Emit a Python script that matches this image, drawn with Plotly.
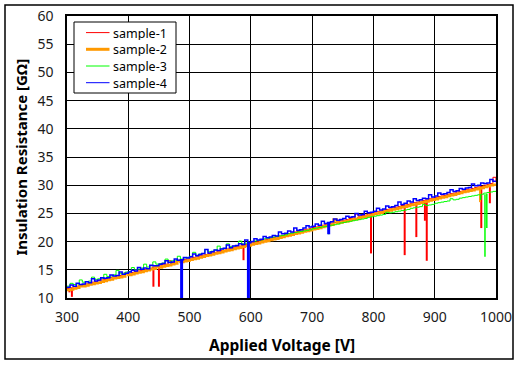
import plotly.graph_objects as go

voltage = list(range(300, 1001, 5))

sample1 = [11.7, 11.8, 12.0, 12.1, 12.2, 12.4, 12.5, 12.6, 12.8, 12.9,
           13.1, 13.2, 13.3, 13.5, 13.6, 13.7, 13.9, 14.0, 14.1, 14.3,
           14.4, 14.5, 14.7, 14.8, 14.9, 15.1, 15.2, 15.3, 15.5, 15.6,
           15.7, 15.9, 16.0, 16.6, 16.3, 16.4, 16.5, 16.7, 16.8, 16.9,
           17.1, 17.2, 17.3, 17.5, 17.6, 17.7, 17.9, 18.0, 18.1, 18.3,
           18.4, 18.5, 18.7, 18.8, 18.9, 19.1, 19.2, 19.3, 19.5, 19.6,
           19.8, 19.9, 20.0, 20.2, 20.3, 20.4, 20.6, 20.7, 20.8, 21.0,
           21.1, 21.3, 21.4, 21.5, 21.7, 21.8, 21.9, 22.1, 22.2, 22.3,
           22.5, 22.6, 22.7, 22.9, 23.0, 23.1, 23.3, 23.4, 23.5, 23.7,
           23.8, 23.9, 24.1, 24.2, 24.9, 24.5, 24.6, 24.7, 24.9, 25.0,
           25.2, 25.3, 25.4, 25.6, 25.7, 25.8, 26.0, 26.1, 26.2, 26.4,
           26.5, 26.6, 26.8, 26.9, 27.0, 27.2, 27.3, 27.4, 27.6, 27.7,
           27.8, 28.0, 28.1, 28.2, 28.4, 28.5, 28.6, 28.8, 28.9, 29.0,
           29.2, 29.3, 29.4, 29.6, 29.7, 29.8, 30.0, 30.1, 30.3, 31.4,
           30.5]
sample2 = [11.4, 11.5, 11.7, 11.8, 12.1, 12.1, 12.2, 12.4, 12.5, 12.6,
           12.7, 12.9, 13.0, 13.2, 13.3, 13.5, 13.6, 13.7, 13.8, 14.3,
           14.1, 14.2, 14.4, 14.5, 14.6, 14.8, 14.9, 15.1, 15.2, 15.6,
           15.4, 15.6, 15.7, 15.8, 16.0, 16.1, 16.6, 16.4, 16.5, 16.6,
           16.8, 16.9, 17.0, 17.2, 17.3, 17.5, 17.6, 17.7, 17.9, 18.0,
           18.1, 18.3, 18.4, 18.5, 18.7, 18.8, 18.9, 19.1, 19.2, 19.3,
           19.5, 19.6, 19.7, 19.9, 20.0, 20.1, 20.3, 20.4, 20.5, 20.7,
           20.8, 21.0, 21.1, 21.2, 21.4, 21.5, 21.6, 21.8, 21.9, 22.0,
           22.2, 22.3, 22.4, 22.6, 22.7, 22.9, 23.0, 23.9, 23.3, 23.4,
           23.5, 23.6, 23.8, 23.9, 24.0, 24.2, 24.3, 24.4, 24.6, 24.7,
           24.9, 25.0, 25.1, 25.3, 25.4, 25.5, 25.7, 25.8, 25.9, 26.1,
           26.2, 26.3, 26.5, 26.6, 26.7, 26.9, 27.0, 27.1, 27.3, 27.4,
           27.5, 27.7, 27.8, 27.9, 28.1, 28.2, 28.3, 28.5, 28.6, 28.8,
           28.9, 29.0, 29.1, 29.3, 29.4, 29.5, 29.7, 29.8, 30.0, 30.1,
           30.2]
sample3 = [12.1, 12.6, 12.4, 12.5, 13.2, 12.8, 12.9, 13.0, 13.7, 13.3,
           13.4, 13.5, 14.2, 13.8, 13.9, 14.1, 14.9, 14.3, 14.4, 14.6,
           14.7, 15.4, 15.0, 15.1, 15.3, 16.0, 15.5, 15.7, 16.4, 16.0,
           16.1, 16.2, 16.9, 16.4, 16.6, 16.7, 17.4, 16.9, 17.1, 17.2,
           17.4, 18.1, 17.6, 17.8, 17.9, 18.6, 18.2, 18.3, 18.5, 19.2,
           18.7, 18.8, 19.6, 19.1, 19.2, 19.3, 20.1, 19.6, 19.7, 19.9,
           20.0, 20.1, 20.2, 20.3, 20.5, 20.6, 20.7, 20.8, 20.9, 21.0,
           21.1, 21.2, 21.4, 21.5, 21.6, 21.7, 21.8, 21.9, 22.0, 22.1,
           22.3, 22.4, 22.5, 22.6, 22.7, 22.8, 22.9, 23.0, 23.1, 23.3,
           23.4, 23.5, 23.6, 23.7, 23.8, 23.9, 24.0, 24.1, 24.3, 24.4,
           24.5, 24.6, 24.7, 24.8, 25.2, 25.1, 25.2, 25.3, 25.4, 25.5,
           25.6, 25.7, 25.9, 26.0, 26.1, 26.2, 26.6, 26.4, 26.5, 26.6,
           26.8, 26.9, 27.0, 27.1, 27.2, 27.6, 27.4, 27.5, 27.7, 27.8,
           27.9, 28.0, 28.1, 28.2, 28.3, 28.4, 28.6, 28.7, 28.8, 28.9,
           29.0]
sample4 = [11.9, 12.3, 12.1, 12.6, 12.4, 12.5, 12.9, 12.7, 13.4, 13.0,
           13.2, 13.6, 13.5, 13.6, 14.1, 13.9, 14.0, 14.6, 14.2, 14.4,
           14.6, 14.9, 14.8, 15.4, 15.1, 15.3, 15.2, 15.8, 15.7, 15.7,
           16.0, 16.1, 16.6, 16.3, 16.4, 16.9, 16.7, 16.8, 17.2, 17.1,
           17.3, 17.8, 17.5, 17.7, 17.9, 18.6, 18.0, 18.2, 18.5, 18.4,
           18.7, 18.8, 19.4, 18.9, 19.2, 19.3, 19.6, 19.5, 20.3, 19.8,
           20.0, 20.5, 20.3, 20.4, 20.9, 20.7, 20.8, 21.1, 21.0, 21.7,
           21.4, 21.5, 21.9, 21.7, 22.4, 22.0, 22.1, 22.4, 22.8, 22.6,
           22.7, 23.1, 22.9, 23.6, 23.2, 23.4, 23.5, 24.0, 23.8, 23.9,
           24.1, 24.5, 24.3, 24.4, 25.0, 24.7, 24.8, 25.4, 25.1, 25.2,
           25.4, 25.9, 25.6, 25.8, 26.3, 26.1, 26.2, 26.4, 27.0, 26.6,
           26.8, 27.2, 27.0, 27.6, 27.3, 27.4, 27.7, 27.6, 28.3, 27.9,
           28.1, 28.6, 28.4, 28.5, 28.7, 29.2, 28.9, 29.0, 29.4, 29.3,
           29.5, 29.6, 30.2, 29.9, 30.0, 30.4, 30.3, 30.4, 31.0, 30.7,
           30.8]

# downward spikes: voltage, level before drop, lowest level
s1_spike_v = [304, 308, 441, 450, 588, 796, 851, 870, 884, 887, 976, 990]
s1_spike_top = [11.6, 11.8, 15.4, 15.7, 19.4, 25.0, 26.4, 27.0, 27.3, 27.4, 29.8, 30.2]
s1_spike_low = [11.0, 10.2, 12.0, 12.0, 16.7, 17.9, 17.6, 20.8, 23.7, 16.6, 22.4, 26.8]
s2_spike_v = [974]
s2_spike_top = [29.5]
s2_spike_low = [27.0]
s3_spike_v = [727, 975, 982, 985]
s3_spike_top = [22.9, 28.3, 28.4, 28.5]
s3_spike_low = [21.3, 27.4, 17.3, 22.4]
s4_spike_v = [487, 596, 727]
s4_spike_top = [16.9, 19.9, 23.3]
s4_spike_low = [9.0, 9.0, 21.3]

names = ["sample-1", "sample-2", "sample-3", "sample-4"]
colors = ["#FF0000", "#FF9900", "#00FF00", "#0000FF"]
widths = [1, 2.5, 1, 1.5]
legend_widths = [1, 3, 1, 1]
spike_widths = [2, 2, 1.5, 3]

series = [sample1, sample2, sample3, sample4]
spikes = [(s1_spike_v, s1_spike_top, s1_spike_low),
          (s2_spike_v, s2_spike_top, s2_spike_low),
          (s3_spike_v, s3_spike_top, s3_spike_low),
          (s4_spike_v, s4_spike_top, s4_spike_low)]

fig = go.Figure()
for name, col, w, sw, ys, (sv, st, sl) in zip(names, colors, widths, spike_widths, series, spikes):
    fig.add_trace(go.Scatter(x=voltage, y=ys, mode="lines", name=name, showlegend=False,
                             line=dict(color=col, width=w, shape="hv")))
    xs, yy = [], []
    for v, t, l in zip(sv, st, sl):
        xs += [v, v, None]
        yy += [t, l, None]
    fig.add_trace(go.Scatter(x=xs, y=yy, mode="lines", showlegend=False,
                             line=dict(color=col, width=sw), hoverinfo="skip"))

L, R, T, B = 67, 24, 16, 67
PW, PH = 520 - L - R, 365 - T - B

def px_x(p):
    return (p - L) / PW

def px_y(p):
    return (365 - B - p) / PH

shapes = [dict(type="rect", xref="paper", yref="paper",
               x0=px_x(5), x1=px_x(513), y0=px_y(359), y1=px_y(5),
               line=dict(color="black", width=1.5), layer="below"),
          dict(type="rect", xref="paper", yref="paper",
               x0=px_x(74), x1=px_x(176), y0=px_y(93), y1=px_y(22),
               line=dict(color="black", width=1), fillcolor="white", layer="above")]
annotations = []
rows = [32.6, 49.3, 66.0, 82.7]
for name, col, lw, ry in zip(names, colors, legend_widths, rows):
    shapes.append(dict(type="line", xref="paper", yref="paper",
                       x0=px_x(86), x1=px_x(109.5), y0=px_y(ry), y1=px_y(ry),
                       line=dict(color=col, width=lw), layer="above"))
    annotations.append(dict(text=name, xref="paper", yref="paper",
                            x=px_x(112), y=px_y(ry), xanchor="left", yanchor="middle",
                            showarrow=False, height=14, borderpad=0,
                            font=dict(family="Noto Sans", size=12.5, color="black")))

annotations += [
    dict(text="<b>Applied Voltage [V]</b>", xref="paper", yref="paper",
         x=0.5, y=px_y(345), xanchor="center", yanchor="middle",
         showarrow=False, font=dict(family="Noto Sans", size=15.5, color="black")),
    dict(text="<b>Insulation Resistance [GΩ]</b>", xref="paper", yref="paper",
         x=px_x(20.5), y=px_y(157), xanchor="center", yanchor="middle",
         textangle=-90, showarrow=False,
         font=dict(family="Noto Sans", size=15, color="black")),
]

tickfont = dict(family="Noto Sans", size=14, color="#1a1a1a")
fig.update_layout(
    width=520, height=365,
    margin=dict(l=L, r=R, t=T, b=B, autoexpand=False),
    paper_bgcolor="white", plot_bgcolor="white",
    showlegend=False,
    xaxis=dict(range=[300, 1000], tickmode="array",
               tickvals=[300, 400, 500, 600, 700, 800, 900, 1000],
               showgrid=True, gridcolor="black", gridwidth=1,
               showline=True, linecolor="black", linewidth=1.5, mirror=True,
               zeroline=False, ticks="", tickfont=tickfont,
               ticklabelstandoff=5),
    yaxis=dict(range=[10, 60], tickmode="array",
               tickvals=[10, 15, 20, 25, 30, 35, 40, 45, 50, 55, 60],
               showgrid=True, gridcolor="black", gridwidth=1,
               showline=True, linecolor="black", linewidth=1.5, mirror=True,
               zeroline=False, ticks="", tickfont=tickfont,
               ticklabelstandoff=9),
    annotations=annotations,
    shapes=shapes,
)

fig.write_html("out.html", config={"displayModeBar": False},
               post_script="document.body.style.margin='0px';")
